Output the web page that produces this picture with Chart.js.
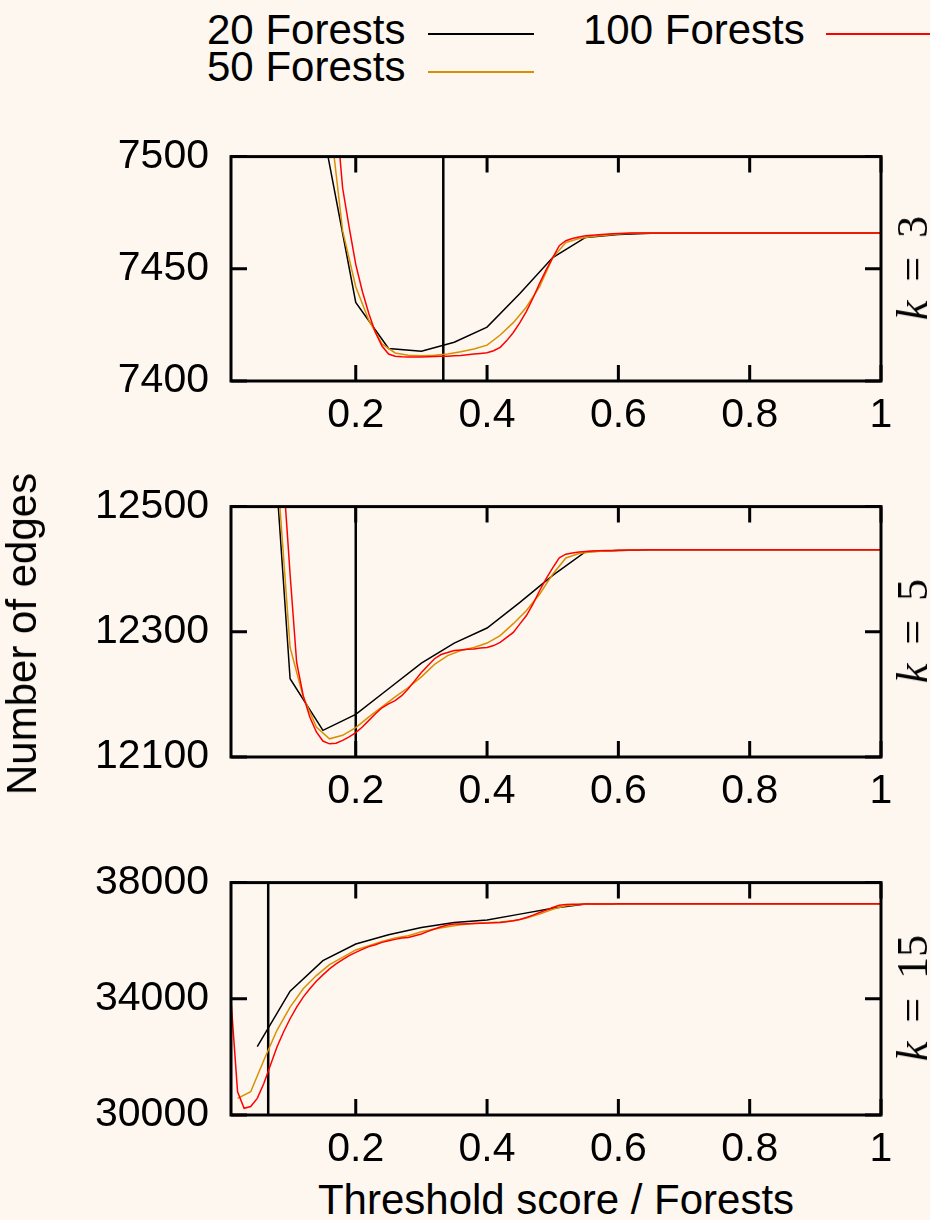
<!DOCTYPE html>
<html>
<head>
<meta charset="utf-8">
<script src="https://cdn.jsdelivr.net/npm/chart.js@4.4.1/dist/chart.umd.min.js"></script>
<style>
  html, body { margin: 0; padding: 0; background: #fdf7f0; }
  body { width: 930px; height: 1220px; position: relative; overflow: hidden;
         font-family: "Liberation Sans", Arial, sans-serif; color: #000; }
  canvas { position: absolute; left: 0; }
  .txt { position: absolute; font-size: 42px; line-height: 42px; white-space: nowrap; }
  .key { position: absolute; height: 1.5px; }
  .rot { position: absolute; transform: translate(-50%, -50%) rotate(-90deg); white-space: nowrap; line-height: 1; }
  .mid { position: absolute; transform: translate(-50%, -50%); white-space: nowrap; line-height: 1; }
  .klabel { font-family: "Liberation Serif", "DejaVu Serif", serif; font-size: 44px; word-spacing: 8px; }
</style>
</head>
<body>
<!-- legend -->
<div class="txt" style="left:207px;top:9px">20 Forests</div>
<div class="key" style="left:428px;top:33px;width:106px;background:#000000"></div>
<div class="txt" style="left:207px;top:46px">50 Forests</div>
<div class="key" style="left:428px;top:71px;width:106px;background:#da8f00"></div>
<div class="txt" style="left:583px;top:9px">100 Forests</div>
<div class="key" style="left:826px;top:33px;width:110px;background:#ff0000"></div>

<canvas id="chartK3" width="930" height="332" style="top:110px"></canvas>
<canvas id="chartK5" width="930" height="362" style="top:460px"></canvas>
<canvas id="chartK15" width="930" height="332" style="top:836px"></canvas>

<div class="rot txt" style="left:22px;top:634px">Number of edges</div>
<div class="mid txt" style="left:556px;top:1200px">Threshold score / Forests</div>

<div class="rot klabel" style="left:913px;top:268px"><i>k</i> = 3</div>
<div class="rot klabel" style="left:913px;top:631px"><i>k</i> = 5</div>
<div class="rot klabel" style="left:913px;top:998px"><i>k</i> = 15</div>

<script>
// ============ DATA ============
const X_TICKS = [0.2, 0.4, 0.6, 0.8, 1];
const SERIES_LABELS = ["20 Forests", "50 Forests", "100 Forests"];
const SERIES_COLORS = ["#000000", "#da8f00", "#ff0000"];

// threshold score / forests, one list per forest count
const X20 = [0.05, 0.1, 0.15, 0.2, 0.25, 0.3, 0.35, 0.4, 0.45, 0.5,
  0.55, 0.6, 0.65, 0.7, 0.75, 0.8, 0.85, 0.9, 0.95, 1];
const X50 = [0.02, 0.04, 0.06, 0.08, 0.1, 0.12, 0.14, 0.16, 0.18, 0.2,
  0.22, 0.24, 0.26, 0.28, 0.3, 0.32, 0.34, 0.36, 0.38, 0.4,
  0.42, 0.44, 0.46, 0.48, 0.5, 0.52, 0.54, 0.56, 0.58, 0.6,
  0.62, 0.64, 0.7, 0.8, 0.9, 1];
const X100 = [0.01, 0.02, 0.03, 0.04, 0.05, 0.06, 0.07, 0.08, 0.09, 0.1,
  0.11, 0.12, 0.13, 0.14, 0.15, 0.16, 0.17, 0.18, 0.19, 0.2,
  0.21, 0.22, 0.23, 0.24, 0.25, 0.26, 0.27, 0.28, 0.29, 0.3,
  0.31, 0.32, 0.33, 0.34, 0.35, 0.36, 0.37, 0.38, 0.39, 0.4,
  0.41, 0.42, 0.43, 0.44, 0.45, 0.46, 0.47, 0.48, 0.49, 0.5,
  0.51, 0.52, 0.53, 0.54, 0.55, 0.56, 0.57, 0.58, 0.59, 0.6,
  0.61, 0.62, 0.63, 0.64, 0.65, 0.7, 0.8, 0.9, 1];

// k = 3
const K3_Y20 = [null, null, 7512, 7435, 7414.5, 7413.3, 7417.3, 7424, 7439, 7455,
  7464, 7465.3, 7465.8, 7466, 7466, 7466, 7466, 7466, 7466, 7466];
const K3_Y50 = [null, null, null, null, null, null, null, 7518, 7467, 7442,
  7427, 7416.5, 7412.5, 7411.5, 7411.3, 7411.5, 7412, 7413, 7414.3, 7416,
  7420.5, 7426, 7433, 7442, 7455, 7461.7, 7463.5, 7464.4, 7465, 7465.5,
  7465.8, 7466, 7466, 7466, 7466, 7466];
const K3_Y100 = [null, null, null, null, null, null, null, null, null, null,
  null, null, null, null, null, null, 7520, 7486, 7468.5, 7452,
  7440, 7430, 7421.6, 7415.6, 7412, 7411, 7410.8, 7410.7, 7410.7, 7410.7,
  7410.8, 7410.9, 7411, 7411, 7411.2, 7411.4, 7411.7, 7412, 7412.3, 7412.6,
  7413.5, 7415, 7418, 7421.6, 7426, 7431, 7437, 7443.5, 7449.5, 7455,
  7460.3, 7462.5, 7463.5, 7464.2, 7464.7, 7465, 7465.2, 7465.4, 7465.6, 7465.7,
  7465.8, 7465.9, 7466, 7466, 7466, 7466, 7466, 7466, 7466];

// k = 5
const K5_Y20 = [12990, 12225, 12142.5, 12168, 12209, 12250, 12282, 12306, 12347, 12390,
  12428, 12430, 12431, 12431, 12431, 12431, 12431, 12431, 12431, 12431];
const K5_Y50 = [null, null, null, 12565, 12275, 12196, 12148, 12129, 12134.6, 12147,
  12164, 12180, 12196, 12211, 12228, 12248, 12262, 12270, 12275, 12282,
  12294, 12313, 12334, 12360, 12392, 12418, 12425, 12428, 12429, 12430,
  12430.5, 12431, 12431, 12431, 12431, 12431];
const K5_Y100 = [null, null, null, null, null, null, null, null, 12546, 12392,
  12251, 12198, 12164, 12140, 12125.5, 12121, 12122, 12126.6, 12132, 12139,
  12148, 12158.5, 12169, 12178.7, 12185, 12190, 12198, 12209, 12222, 12235,
  12246, 12257, 12263.7, 12267, 12270, 12271, 12272, 12272.7, 12274, 12275,
  12278, 12283, 12291, 12299, 12312.6, 12326, 12344.5, 12365.6, 12385, 12402,
  12418, 12424, 12426, 12427.5, 12428.3, 12429, 12429.4, 12429.7, 12430, 12430.2,
  12430.4, 12430.6, 12430.8, 12431, 12431, 12431, 12431, 12431, 12431];

// k = 15
const K15_Y20 = [32350, 34262, 35315, 35887, 36206, 36457, 36628, 36710, 36915, 37120,
  37260, 37268, 37270, 37270, 37270, 37270, 37270, 37270, 37270, 37270];
const K15_Y50 = [30572, 30800, 31886, 32915, 33714, 34345, 34800, 35178, 35428, 35682,
  35829, 35977, 36093, 36172, 36309, 36400, 36480, 36550, 36594, 36618,
  36640, 36686, 36777, 36914, 37085, 37200, 37250, 37262, 37266, 37268,
  37269, 37270, 37270, 37270, 37270, 37270];
const K15_Y100 = [33950, 30800, 30229, 30290, 30572, 31086, 31714, 32342, 32857, 33314,
  33714, 34057, 34343, 34605, 34824, 35030, 35200, 35350, 35486, 35600,
  35703, 35795, 35863, 35943, 36000, 36046, 36093, 36114, 36172, 36229,
  36320, 36400, 36480, 36537, 36571, 36575, 36585, 36594, 36598, 36605,
  36615, 36630, 36655, 36686, 36731, 36800, 36880, 36971, 37051, 37143,
  37220, 37245, 37255, 37259, 37262, 37264, 37265, 37266, 37267, 37268,
  37268.5, 37269, 37269.5, 37270, 37270, 37270, 37270, 37270, 37270];

// y axis ranges per panel: min, max, step
const K3_Y_TICKS = [7400, 7500, 50];
const K5_Y_TICKS = [12100, 12500, 200];
const K15_Y_TICKS = [30000, 38000, 4000];

// ============ CHARTS ============
const FONT = { family: "'Liberation Sans', Arial, sans-serif", size: 41 };

function pts(xs, ys) {
  return xs.map((x, i) => ({ x, y: ys[i] })).filter(p => p.y !== null);
}

// border box + inward (mirrored) tick marks
const framePlugin = {
  id: "frame",
  afterDatasetsDraw(chart) {
    const { ctx, chartArea: a, scales } = chart;
    ctx.save();
    ctx.strokeStyle = "#000";
    ctx.lineWidth = 3;
    ctx.beginPath();
    scales.y.ticks.forEach(t => {
      const y = scales.y.getPixelForValue(t.value);
      ctx.moveTo(a.left, y); ctx.lineTo(a.left + 16, y);
      ctx.moveTo(a.right, y); ctx.lineTo(a.right - 16, y);
    });
    scales.x.ticks.forEach(t => {
      const x = scales.x.getPixelForValue(t.value);
      ctx.moveTo(x, a.bottom); ctx.lineTo(x, a.bottom - 16);
      ctx.moveTo(x, a.top); ctx.lineTo(x, a.top + 16);
    });
    ctx.stroke();
    ctx.strokeRect(a.left, a.top, a.right - a.left, a.bottom - a.top);
    ctx.restore();
  }
};

function makePanel(id, k, yTicks, y20, y50, y100, xAxisHeight) {
  const [yMin, yMax, yStep] = yTicks;
  const series = [[X100, y100, 2], [X50, y50, 1], [X20, y20, 0]];
  const datasets = series.map(([xs, ys, c]) => ({
    label: SERIES_LABELS[c],
    data: pts(xs, ys),
    borderColor: SERIES_COLORS[c],
    borderWidth: 1.5,
    pointRadius: 0,
    tension: 0,
    fill: false,
  }));
  // vertical line at 1/k
  datasets.push({
    label: "threshold",
    data: [{ x: 1 / k, y: yMin }, { x: 1 / k, y: yMax }],
    borderColor: "#000",
    borderWidth: 2.5,
    pointRadius: 0,
    fill: false,
  });

  return new Chart(document.getElementById(id).getContext("2d"), {
    type: "line",
    data: { datasets },
    options: {
      responsive: false,
      animation: false,
      events: [],
      layout: { padding: { top: 34, right: 49, left: 0, bottom: 0 } },
      plugins: { legend: { display: false }, tooltip: { enabled: false } },
      scales: {
        x: {
          type: "linear",
          min: 0.01,
          max: 1,
          afterBuildTicks: (s) => { s.ticks = X_TICKS.map(v => ({ value: v })); },
          afterFit: (s) => { s.height = xAxisHeight; },
          grid: { display: false, drawTicks: false },
          border: { display: false },
          ticks: { color: "#000", font: FONT, padding: 10, maxRotation: 0, callback: (v) => String(v) },
        },
        y: {
          min: yMin,
          max: yMax,
          afterFit: (s) => { s.width = 231; },
          grid: { display: false, drawTicks: false },
          border: { display: false },
          ticks: { color: "#000", font: FONT, padding: 22, stepSize: yStep, callback: (v) => String(v) },
        },
      },
    },
    plugins: [framePlugin],
  });
}

makePanel("chartK3", 3, K3_Y_TICKS, K3_Y20, K3_Y50, K3_Y100, 61);
makePanel("chartK5", 5, K5_Y_TICKS, K5_Y20, K5_Y50, K5_Y100, 65);
makePanel("chartK15", 15, K15_Y_TICKS, K15_Y20, K15_Y50, K15_Y100, 53);
</script>
</body>
</html>
